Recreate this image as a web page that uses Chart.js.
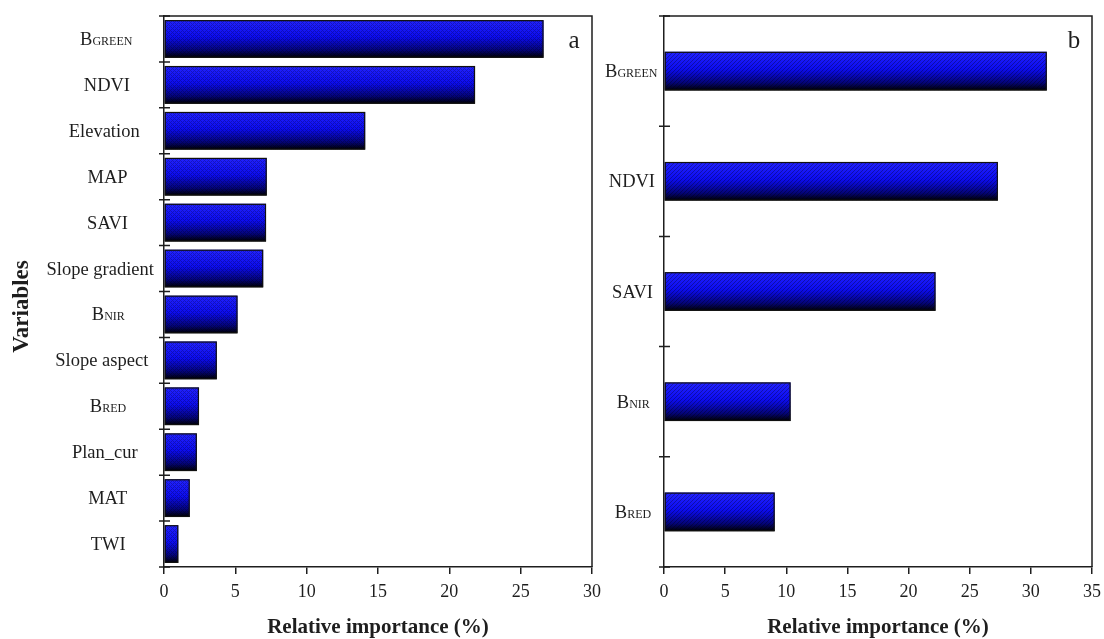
<!DOCTYPE html>
<html>
<head>
<meta charset="utf-8">
<title>Relative importance of variables</title>
<script src="https://cdn.jsdelivr.net/npm/chart.js@4.4.1/dist/chart.umd.min.js"></script>
<style>
  html, body { margin: 0; padding: 0; background: #fff; }
  #wrap { position: relative; width: 1104px; height: 639px; overflow: hidden; }
  #boxA { position: absolute; left: 0; top: 0; width: 608px; height: 639px; }
  #boxB { position: absolute; left: 600px; top: 0; width: 508px; height: 639px; }
</style>
</head>
<body>
<div id="wrap">
  <div id="boxA"><canvas id="chartA" width="608" height="639"></canvas></div>
  <div id="boxB"><canvas id="chartB" width="508" height="639"></canvas></div>
</div>
<script>
// Panel a: all candidate variables
const categoriesA = ['BGREEN', 'NDVI', 'Elevation', 'MAP', 'SAVI', 'Slope gradient', 'BNIR', 'Slope aspect', 'BRED', 'Plan_cur', 'MAT', 'TWI'];
const importanceA = [26.6, 21.8, 14.1, 7.2, 7.15, 6.95, 5.15, 3.7, 2.45, 2.3, 1.8, 1.0];
const xMaxA = 30;

// Panel b: reduced variable set
const categoriesB = ['BGREEN', 'NDVI', 'SAVI', 'BNIR', 'BRED'];
const importanceB = [31.3, 27.3, 22.2, 10.35, 9.05];
const xMaxB = 35;

const xStep = 5;
const panelLetters = ['a', 'b'];
const xTitle = 'Relative importance (%)';
const yTitle = 'Variables';
// band names written as a capital followed by small capitals
const smallCapsLabels = ['BGREEN', 'BNIR', 'BRED'];

const SERIF = '"Liberation Serif", "Times New Roman", serif';
const INK = '#1e1e1e';

function makeTile(size, isDark, alpha) {
  const c = document.createElement('canvas');
  c.width = size; c.height = size;
  const g = c.getContext('2d');
  const img = g.createImageData(size, size);
  for (let j = 0; j < size; j++) {
    for (let i = 0; i < size; i++) {
      const k = (j * size + i) * 4;
      img.data[k] = 0; img.data[k + 1] = 0; img.data[k + 2] = 0;
      img.data[k + 3] = isDark(i, j) ? Math.round(alpha * 255) : 0;
    }
  }
  g.putImageData(img, 0, 0);
  return c;
}
// crossed diagonals for panel a, single "/" hatching for panel b
const tileCross = makeTile(4, (i, j) => (i + j) % 4 === 0 || (i - j + 4) % 4 === 0, 0.24);
const tileDiag = makeTile(4, (i, j) => (i + j) % 4 === 0, 0.3);

function barGradient(barPct) {
  return (ctx) => {
    const chart = ctx.chart;
    if (ctx.type !== 'data' || !chart.chartArea || !chart.scales.y) return '#0a0ae0';
    const ys = chart.scales.y;
    const band = ys.height / ys.getLabels().length;
    const yc = ys.getPixelForValue(ctx.dataIndex);
    const h = band * barPct;
    const g = chart.ctx.createLinearGradient(0, yc - h / 2, 0, yc + h / 2);
    g.addColorStop(0, '#2222ff');
    g.addColorStop(0.45, '#0c0cf0');
    g.addColorStop(0.8, '#040478');
    g.addColorStop(1, '#000000');
    return g;
  };
}

function drawCategoryLabel(ctx, text, cx, cy) {
  const big = '18.5px ' + SERIF;
  const small = '12px ' + SERIF;
  ctx.save();
  ctx.fillStyle = INK;
  ctx.textBaseline = 'alphabetic';
  ctx.textAlign = 'left';
  const base = cy + 6;
  if (smallCapsLabels.includes(text)) {
    const head = text.charAt(0), rest = text.slice(1);
    ctx.font = big; const w1 = ctx.measureText(head).width;
    ctx.font = small; const w2 = ctx.measureText(rest).width;
    const w = w1 + w2;
    const x0 = cx.center - cx.shift * w - w / 2;
    ctx.font = big; ctx.fillText(head, x0, base);
    ctx.font = small; ctx.fillText(rest, x0 + w1, base);
  } else {
    ctx.font = big;
    const w = ctx.measureText(text).width;
    ctx.fillText(text, cx.center - cx.shift * w - w / 2, base);
  }
  ctx.restore();
}

const panelDecor = {
  id: 'panelDecor',
  afterDatasetsDraw(chart, args, opts) {
    const ctx = chart.ctx;
    const area = chart.chartArea;
    const ys = chart.scales.y;
    const meta = chart.getDatasetMeta(0);
    const pattern = ctx.createPattern(opts.tile, 'repeat');
    // hatching over each bar, then its outline
    meta.data.forEach((bar) => {
      const p = bar.getProps(['x', 'y', 'base', 'height'], true);
      const left = Math.min(p.base, p.x), right = Math.max(p.base, p.x);
      const top = p.y - p.height / 2;
      ctx.save();
      ctx.beginPath();
      ctx.rect(left, top, right - left, p.height);
      ctx.clip();
      ctx.fillStyle = pattern;
      ctx.fillRect(left, top, right - left, p.height);
      ctx.restore();
      ctx.save();
      ctx.strokeStyle = '#101010';
      ctx.lineWidth = 1.2;
      ctx.strokeRect(left + 0.5, top + 0.5, right - left - 1, p.height - 1);
      ctx.restore();
    });
    // frame: top and right edges
    ctx.save();
    ctx.strokeStyle = INK;
    ctx.lineWidth = 1.5;
    ctx.beginPath();
    ctx.moveTo(area.left, area.top);
    ctx.lineTo(area.right, area.top);
    ctx.lineTo(area.right, area.bottom);
    ctx.stroke();
    // category boundary ticks crossing the y axis
    const n = ys.getLabels().length;
    const band = ys.height / n;
    ctx.beginPath();
    for (let i = 0; i <= n; i++) {
      const y = ys.top + i * band;
      ctx.moveTo(area.left - 5, y);
      ctx.lineTo(area.left + 6, y);
    }
    ctx.stroke();
    ctx.restore();
    // category labels
    ys.getLabels().forEach((lab, i) => {
      drawCategoryLabel(ctx, lab, { center: area.left - opts.labelGap, shift: opts.labelShift }, ys.getPixelForValue(i));
    });
    // vertical axis title, set a little below the middle of the axis
    if (opts.yTitle) {
      ctx.save();
      ctx.fillStyle = INK;
      ctx.font = 'bold 23px ' + SERIF;
      ctx.textAlign = 'center';
      ctx.textBaseline = 'middle';
      ctx.translate(22, (area.top + area.bottom) / 2 + 15);
      ctx.rotate(-Math.PI / 2);
      ctx.fillText(opts.yTitle, 0, 0);
      ctx.restore();
    }
    // panel letter
    ctx.save();
    ctx.fillStyle = INK;
    ctx.font = '25px ' + SERIF;
    ctx.textAlign = 'center';
    ctx.textBaseline = 'alphabetic';
    ctx.fillText(opts.letter, area.right - opts.letterInset, area.top + 32);
    ctx.restore();
  }
};

function buildChart(canvasId, labels, values, xMax, cfg) {
  return new Chart(document.getElementById(canvasId), {
    type: 'bar',
    data: {
      labels: labels,
      datasets: [{
        data: values,
        backgroundColor: barGradient(cfg.barPct),
        borderColor: '#101010',
        borderWidth: 0,
        borderSkipped: false,
        categoryPercentage: 1,
        barPercentage: cfg.barPct
      }]
    },
    plugins: [panelDecor],
    options: {
      indexAxis: 'y',
      responsive: false,
      animation: false,
      devicePixelRatio: 1,
      layout: { padding: { top: 16, right: cfg.padRight, left: 0, bottom: 0 } },
      plugins: {
        legend: { display: false },
        tooltip: { enabled: false },
        panelDecor: { tile: cfg.tile, letter: cfg.letter, letterInset: cfg.letterInset, labelGap: cfg.labelGap, labelShift: cfg.labelShift, yTitle: cfg.yTitle }
      },
      scales: {
        x: {
          type: 'linear',
          min: 0,
          max: xMax,
          afterFit: (s) => { s.height = 72; },
          ticks: { stepSize: xStep, color: INK, font: { family: SERIF, size: 18 }, padding: 7, maxRotation: 0 },
          grid: { drawOnChartArea: false, drawTicks: true, tickLength: 7, color: INK, lineWidth: 1.5 },
          border: { display: true, color: INK, width: 1.5 },
          title: { display: true, text: xTitle, color: INK, font: { family: SERIF, size: 21, weight: 'bold', lineHeight: 1.05 }, padding: { top: 0, bottom: 0 } }
        },
        y: {
          type: 'category',
          afterFit: (s) => { s.width = cfg.yWidth; },
          ticks: { display: false },
          grid: { display: false },
          border: { display: true, color: INK, width: 1.5 },
          title: { display: false }
        }
      }
    }
  });
}

buildChart('chartA', categoriesA, importanceA, xMaxA, {
  barPct: 0.82, tile: tileCross, letter: panelLetters[0], letterInset: 18,
  padRight: 8, yWidth: 164, labelGap: 52, labelShift: 0.11, yTitle: yTitle
});
buildChart('chartB', categoriesB, importanceB, xMaxB, {
  barPct: 0.35, tile: tileDiag, letter: panelLetters[1], letterInset: 18,
  padRight: 12, yWidth: 64, labelGap: 27, labelShift: 0.11, yTitle: null
});
</script>
</body>
</html>
